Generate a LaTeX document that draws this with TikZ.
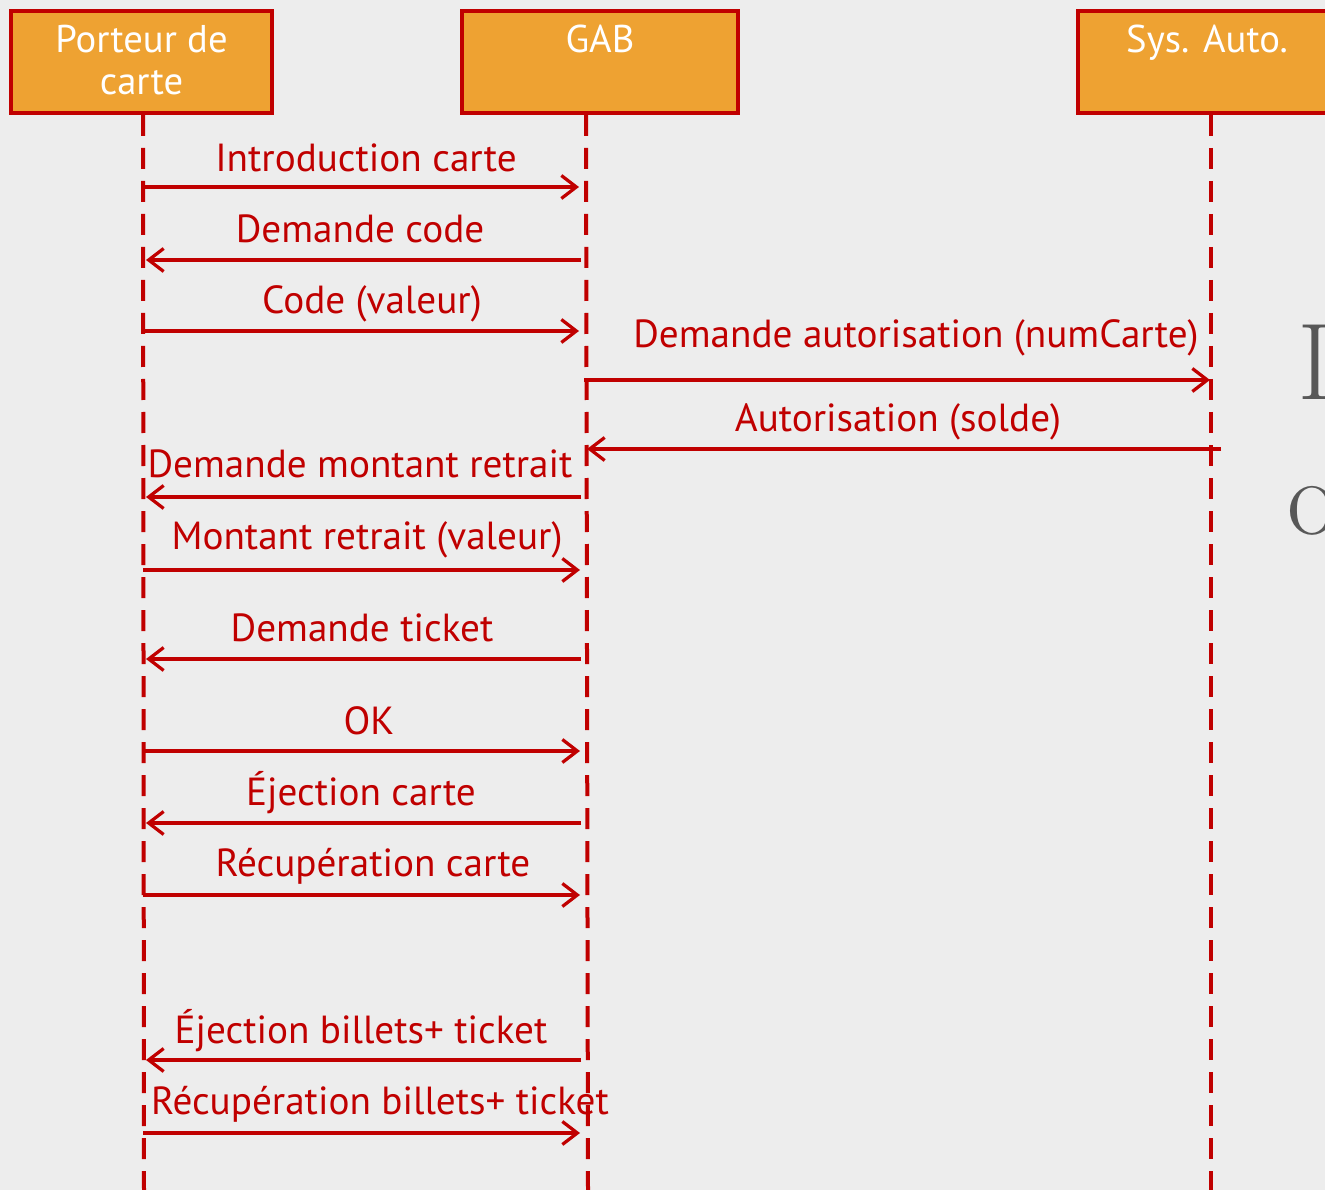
\documentclass[tikz,border=0pt]{standalone}
\usepackage{fontspec}
\newfontfamily\umlfont{PT Sans}
\usepackage{tikz}
\usetikzlibrary{positioning}
\usetikzlibrary{arrows.meta}
\definecolor{umlred}{RGB}{192,0,0}
\definecolor{umlorange}{RGB}{238,162,50}
\definecolor{slidegray}{RGB}{237,237,237}
\definecolor{titlegray}{RGB}{88,88,88}
\tikzset{
  actor/.style={draw=umlred,line width=0.8mm,fill=umlorange,minimum height=20.4mm,inner sep=0},
  actorname/.style={text=white,font=\umlfont\fontsize{22}{24}\selectfont,align=center,anchor=north,inner sep=0},
  lifeline/.style={draw=umlred,line width=0.8mm,dash pattern=on 4.2mm off 2.4mm},
  msg/.style={draw=umlred,line width=0.65mm,-{Straight Barb[length=3mm,width=4.6mm,line width=0.65mm]}},
  msglabel/.style={text=umlred,font=\umlfont\fontsize{22.3}{24}\selectfont,anchor=base,inner sep=0}
}
\begin{document}
\begin{tikzpicture}[x=0.2mm,y=-0.2mm]
  \useasboundingbox (0,0) rectangle (1325,1190);
  \clip (0,0) rectangle (1325,1190);
  \fill[slidegray] (0,0) rectangle (1325,1190);

  % acteurs
  \node[actor,minimum width=52.2mm] (porteur) at (141.5,62) {};
  \node[actor,minimum width=55.2mm] (gab) at (600,62) {};
  \node[actor,minimum width=52.8mm] (sysauto) at (1210,62) {};
  \node[actorname] (porteurname) at ([yshift=-3.2mm]porteur.north) {Porteur de\\carte};
  \node[actorname] (gabname) at ([yshift=-3.2mm]gab.north) {GAB};
  \node[actorname] (sysautoname) at ([yshift=-3.2mm,xshift=-0.6mm]sysauto.north) {Sys. Auto.};

  % lignes de vie
  \coordinate (porteurtop) at (143,115);
  \coordinate (porteurbot) at (144,1190);
  \coordinate (gabtop) at (586,115);
  \coordinate (gabbot) at (588,1190);
  \coordinate (sysautotop) at (1211,115);
  \coordinate (sysautobot) at (1211,1190);
  \draw[lifeline] (porteurtop) -- (porteurbot);
  \draw[lifeline] (gabtop) -- (gabbot);
  \draw[lifeline] (sysautotop) -- (sysautobot);

  % messages
  \foreach \y/\xa/\xb/\lx/\gap/\txt [count=\i] in {
      187/143/579/366/15/Introduction carte,
      260/581/146/360/17/Demande code,
      331/143/579/372/17/Code (valeur),
      380/584/1210/916/32/Demande autorisation (numCarte),
      449/1221/587/898/17/Autorisation (solde),
      497/581/146/360/19/Demande montant retrait,
      570/143/580/367/20/Montant retrait (valeur),
      659/581/146/362/17/Demande ticket,
      751/143/580/369/17/OK,
      823/581/146/361/18/Éjection carte,
      895/143/580/373/19/Récupération carte,
      1060/581/146/361/17/Éjection billets+ ticket,
      1133/143/580/380/19/Récupération billets+ ticket}{
    \coordinate (from\i) at (\xa,\y);
    \coordinate (to\i) at (\xb,\y);
    \draw[msg] (from\i) -- (to\i);
    \node[msglabel] (label\i) at (\lx,\y-\gap) {\txt};
  }

  % titre coupé de la diapositive
  \node[anchor=base west,text=titlegray,font=\fontsize{62}{70}\selectfont,inner sep=0] (titleA) at (1297,400) {D};
  \node[anchor=base west,text=titlegray,font=\fontsize{62}{70}\selectfont,inner sep=0] (titleB) at (1287,535) {o};
\end{tikzpicture}
\end{document}
